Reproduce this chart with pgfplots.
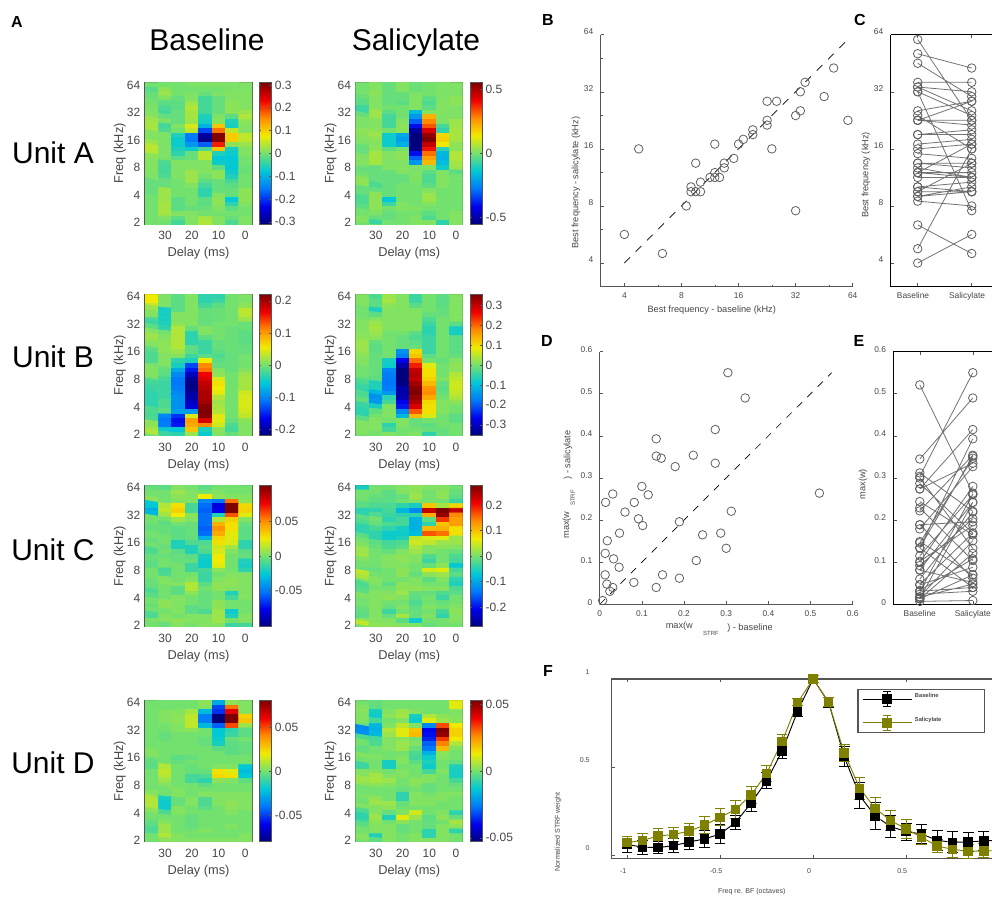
\documentclass[border=0pt]{standalone}
\usepackage{fontspec}
\setmainfont{Liberation Sans}
\usepackage{pgfplots}
\pgfplotsset{compat=1.18}
\definecolor{axg}{RGB}{85,85,85}
\definecolor{txg}{RGB}{70,70,70}
\definecolor{mkg}{RGB}{95,95,95}
\definecolor{lng}{RGB}{115,115,115}
\definecolor{oliv}{RGB}{128,128,0}
\pgfplotsset{
 /pgf/number format/assume math mode=true,
 colormap={myjet}{rgb255=(0,0,125) rgb255=(0,0,235) rgb255=(0,120,250) rgb255=(0,200,215) rgb255=(115,225,110) rgb255=(240,235,0) rgb255=(255,140,0) rgb255=(240,0,0) rgb255=(125,0,0)},
 heat/.style={
  scale only axis,width=80.25pt,height=106pt,anchor=south west,
  enlargelimits=false,x dir=reverse,xmin=-2.5,xmax=37.5,ymin=0.955,ymax=6.08,
  xtick={0,10,20,30},ytick={1,2,3,4,5,6},yticklabels={2,4,8,16,32,64},
  axis line style={draw=axg,line width=0.8pt},
  tick style={draw=axg,line width=0.4pt},tick align=inside,major tick length=2pt,
  xtick pos=bottom,ytick pos=left,
  tick label style={font=\fontsize{9}{10}\selectfont,text=txg},
  label style={font=\fontsize{9.6}{11}\selectfont,text=txg},
  xlabel={Delay (ms)},ylabel={Freq (kHz)},
  xlabel style={yshift=1.5pt},ylabel style={yshift=-6pt},
  xticklabel style={yshift=-2pt},
  colormap name=myjet,colorbar,
  colorbar shift/.style={xshift=4.8pt},
  colorbar style={width=9pt,scaled y ticks=false,
   axis line style={draw=axg,line width=0.5pt},
   tick style={draw=axg,line width=0.3pt},major tick length=1.5pt,tick align=inside,
   ylabel={},xlabel={},
   yticklabel style={font=\fontsize{9}{10}\selectfont,text=txg,/pgf/number format/fixed,/pgf/number format/precision=2,xshift=-1pt}}
 },
 scat/.style={scale only axis,anchor=south west,axis line style={-,draw=axg,line width=0.9pt},
  tick style={draw=axg,line width=0.4pt},tick align=inside,major tick length=2.5pt,minor tick length=1.5pt,
  tick label style={font=\fontsize{6.3}{7}\selectfont,text=txg},clip=false}
}
% the row of zeros appended to each table lies below the axis limits and is clipped
\newcommand\heat[5]{%
 \begin{axis}[heat,at={(#1*0.75pt,-#2*0.75pt)},point meta min=-#3,point meta max=#3,colorbar style={ytick={#4}}]
 \addplot[matrix plot*,mesh/cols=8,point meta={\thisrowno{0}*#3/100}]
  table[row sep=\\,header=false,x expr={35-5*mod(\coordindex,8)},y expr={6-floor(\coordindex/8)/6}]{#5 0\\0\\0\\0\\0\\0\\0\\0\\};
 \end{axis}}
\newcommand\lab[4][0]{\node[text=txg,font=\fontsize{#4}{#4}\selectfont,rotate=#1] at (#2) {#3};}
\newcommand\bigt[2]{\node[anchor=base,inner sep=0pt,text=black,font=\fontsize{22.5}{24}\selectfont] at (#1) {#2};}
\begin{document}
\begin{tikzpicture}
\path[use as bounding box] (0,0) rectangle (744pt,-672.75pt);
% cell values: percent of the panel's colour limit, rows 64 kHz -> 2 kHz, columns 35 ms -> 0 ms
\heat{145}{224}{0.31}{-0.3,-0.2,-0.1,0,0.1,0.2,0.3}{
0\\0\\0\\2\\2\\2\\2\\2\\
-6\\5\\0\\0\\0\\0\\2\\2\\
-3\\8\\0\\2\\-3\\2\\3\\3\\
-2\\3\\-3\\3\\-10\\-3\\3\\3\\
0\\-5\\-5\\8\\-10\\-3\\5\\3\\
2\\-8\\-5\\12\\-10\\-3\\5\\3\\
2\\-10\\-3\\10\\-10\\-3\\5\\8\\
3\\-3\\-3\\10\\-18\\2\\-5\\12\\
8\\2\\-3\\8\\-20\\5\\-18\\5\\
10\\-10\\3\\20\\-32\\35\\-20\\3\\
10\\-8\\0\\15\\-60\\55\\15\\3\\
3\\2\\-18\\-48\\-92\\100\\33\\15\\
3\\2\\-22\\-50\\-96\\98\\33\\15\\
8\\2\\-22\\-40\\-55\\70\\5\\8\\
14\\2\\-18\\-22\\-10\\35\\-20\\3\\
12\\2\\-15\\-3\\14\\-18\\-22\\3\\
5\\2\\-5\\-2\\14\\-25\\-25\\0\\
3\\-8\\3\\2\\3\\-22\\-24\\0\\
3\\-10\\2\\3\\3\\-5\\-24\\-2\\
3\\-10\\2\\8\\3\\5\\-22\\-2\\
2\\-8\\2\\8\\0\\5\\-18\\0\\
2\\-3\\0\\8\\-5\\-3\\-10\\0\\
-3\\-3\\0\\3\\-10\\-3\\-5\\0\\
-3\\8\\0\\0\\-15\\-3\\-3\\5\\
-3\\8\\0\\0\\-15\\3\\-3\\5\\
0\\8\\-5\\0\\-5\\5\\-25\\5\\
0\\10\\-5\\0\\-5\\5\\-15\\3\\
0\\10\\-5\\-3\\-2\\3\\-5\\0\\
0\\10\\3\\3\\0\\0\\0\\0\\
0\\3\\-5\\3\\10\\3\\-3\\2\\
0\\0\\-10\\3\\12\\3\\-8\\2\\}
\heat{355.7}{224}{0.55}{-0.5,0,0.5}{
0\\3\\-3\\3\\-2\\0\\2\\2\\
0\\3\\-3\\3\\-2\\0\\2\\2\\
2\\5\\-3\\-3\\2\\0\\2\\2\\
-2\\3\\-3\\-3\\3\\-5\\2\\5\\
-5\\3\\-3\\-5\\3\\-8\\3\\5\\
-12\\3\\0\\0\\3\\-5\\3\\2\\
-12\\8\\-5\\0\\-28\\3\\3\\2\\
-3\\8\\-10\\0\\-40\\40\\2\\3\\
2\\3\\-10\\3\\-55\\50\\2\\8\\
2\\3\\-10\\5\\-72\\60\\-10\\8\\
5\\5\\0\\5\\-92\\80\\-15\\10\\
5\\8\\-22\\-35\\-100\\95\\30\\10\\
3\\5\\-22\\-38\\-100\\100\\32\\10\\
2\\3\\-22\\-32\\-100\\85\\25\\5\\
-3\\5\\-5\\0\\-98\\72\\-15\\5\\
-3\\10\\3\\5\\-72\\55\\-30\\12\\
2\\10\\3\\5\\-55\\45\\-32\\12\\
3\\10\\2\\3\\-40\\38\\-28\\10\\
0\\-3\\3\\3\\2\\3\\-22\\8\\
-3\\-3\\-3\\3\\2\\-5\\3\\-5\\
0\\-3\\-3\\-3\\2\\-8\\3\\0\\
5\\-3\\-3\\-3\\2\\-8\\3\\0\\
5\\-8\\-3\\0\\0\\-5\\3\\0\\
-3\\-3\\-3\\0\\0\\3\\0\\0\\
-3\\5\\-3\\0\\0\\8\\0\\0\\
-8\\5\\-25\\0\\0\\8\\0\\0\\
-8\\5\\-12\\3\\0\\3\\0\\0\\
-5\\5\\0\\3\\2\\0\\0\\0\\
0\\2\\-3\\0\\0\\-5\\0\\3\\
3\\-3\\-3\\0\\2\\-8\\0\\3\\
3\\-12\\0\\0\\3\\3\\-15\\3\\}
\heat{145}{435.7}{0.22}{-0.2,-0.1,0,0.1,0.2}{
25\\2\\-5\\3\\-15\\-15\\0\\2\\
25\\2\\-5\\3\\-15\\-12\\0\\2\\
15\\2\\-5\\3\\-10\\-5\\0\\5\\
8\\-20\\-5\\3\\-3\\-2\\0\\14\\
3\\-20\\3\\3\\-3\\-2\\0\\14\\
-8\\-20\\3\\3\\-3\\-2\\0\\8\\
-12\\-18\\5\\3\\-3\\0\\0\\-2\\
-5\\-15\\12\\-3\\3\\0\\-2\\-2\\
3\\0\\12\\-15\\3\\0\\-2\\-5\\
8\\3\\12\\-15\\-5\\0\\-2\\-5\\
5\\5\\12\\-15\\-12\\-3\\-2\\-5\\
3\\5\\12\\-5\\-12\\-3\\-2\\-3\\
-5\\5\\8\\-5\\-12\\-5\\-2\\-3\\
-8\\3\\3\\-12\\-5\\-8\\-3\\0\\
-8\\3\\-15\\-18\\25\\-5\\-3\\0\\
0\\3\\-20\\-60\\50\\-3\\-3\\0\\
3\\-3\\-35\\-70\\55\\3\\-3\\3\\
3\\-5\\-45\\-85\\75\\5\\0\\8\\
0\\-10\\-50\\-95\\80\\20\\0\\10\\
-10\\-12\\-50\\-98\\85\\28\\0\\10\\
-12\\-12\\-48\\-98\\88\\25\\0\\10\\
-12\\-12\\-45\\-92\\90\\22\\0\\18\\
-15\\-12\\-42\\-90\\90\\12\\0\\20\\
-15\\-8\\-42\\-85\\92\\8\\0\\20\\
-15\\-8\\-42\\-80\\98\\10\\0\\20\\
-8\\-5\\-38\\-40\\100\\12\\0\\18\\
-10\\-45\\-65\\20\\98\\22\\0\\15\\
-8\\-50\\-72\\45\\80\\22\\-3\\5\\
5\\-48\\-70\\42\\50\\18\\-8\\3\\
10\\-22\\-25\\35\\-18\\5\\-10\\3\\
12\\-12\\-15\\8\\-22\\3\\-3\\3\\}
\heat{355.7}{435.7}{0.355}{-0.3,-0.2,-0.1,0,0.1,0.2,0.3}{
3\\-8\\8\\3\\-12\\0\\-5\\3\\
3\\-5\\10\\3\\-12\\0\\-5\\3\\
3\\-5\\5\\3\\-5\\0\\-5\\3\\
0\\-18\\3\\3\\3\\0\\-3\\3\\
0\\-5\\3\\3\\3\\-3\\-3\\3\\
0\\3\\3\\3\\3\\-8\\0\\3\\
3\\8\\3\\3\\3\\-12\\0\\-5\\
3\\10\\3\\3\\3\\-15\\0\\-20\\
3\\8\\0\\0\\-5\\-15\\0\\-20\\
5\\5\\0\\-3\\-8\\-12\\0\\-5\\
8\\-3\\0\\-3\\-5\\-12\\0\\-5\\
8\\-5\\0\\-3\\-3\\-12\\0\\-5\\
8\\-5\\0\\-42\\30\\-12\\0\\-5\\
5\\-3\\0\\-48\\35\\-5\\0\\-3\\
3\\-3\\-20\\-75\\55\\0\\-3\\3\\
3\\-3\\-22\\-90\\70\\22\\0\\5\\
0\\-3\\-45\\-100\\85\\28\\0\\5\\
0\\-3\\-48\\-100\\88\\28\\0\\12\\
-3\\-5\\-50\\-100\\85\\32\\3\\15\\
-8\\-18\\-50\\-98\\92\\38\\-3\\18\\
-12\\-18\\-48\\-90\\98\\48\\-5\\18\\
-15\\-30\\-40\\-90\\100\\50\\-3\\15\\
-8\\-42\\-15\\-88\\95\\42\\0\\12\\
-3\\-40\\-10\\-75\\90\\30\\3\\5\\
-12\\-20\\3\\-70\\80\\28\\3\\0\\
-15\\-5\\3\\-45\\60\\28\\3\\0\\
-15\\0\\3\\-30\\38\\20\\0\\-5\\
-5\\3\\0\\3\\-3\\0\\0\\-5\\
3\\3\\-15\\3\\-3\\-5\\0\\0\\
3\\3\\-10\\0\\0\\-3\\-3\\0\\
3\\0\\3\\0\\3\\-15\\-3\\0\\}
\heat{145}{626.7}{0.102}{-0.05,0,0.05}{
-3\\-5\\3\\0\\-5\\0\\0\\0\\
0\\0\\8\\3\\0\\3\\0\\0\\
0\\0\\5\\3\\25\\5\\3\\3\\
5\\0\\3\\3\\-45\\-50\\55\\5\\
-25\\12\\28\\-10\\-52\\-78\\100\\30\\
-35\\15\\32\\-10\\-55\\-75\\100\\32\\
-30\\10\\25\\5\\-52\\-18\\60\\22\\
0\\0\\8\\3\\-52\\12\\32\\3\\
0\\-5\\0\\-3\\-52\\40\\28\\-3\\
-3\\-3\\-5\\-3\\-55\\48\\28\\-5\\
0\\-3\\-5\\-3\\-52\\42\\22\\-5\\
0\\0\\-5\\-3\\-32\\30\\22\\-5\\
-3\\0\\-18\\-8\\-8\\28\\20\\-15\\
0\\-3\\-18\\-18\\-5\\18\\10\\-15\\
-8\\0\\-5\\-18\\-8\\20\\3\\-5\\
-3\\-3\\-3\\-5\\-20\\25\\0\\-3\\
-3\\0\\-3\\-3\\-22\\25\\0\\-18\\
-5\\0\\0\\-12\\-22\\22\\0\\-20\\
0\\-10\\0\\-12\\-10\\5\\0\\-15\\
0\\-8\\0\\0\\-12\\0\\3\\3\\
0\\3\\0\\3\\-12\\3\\5\\3\\
-3\\3\\3\\12\\-5\\5\\5\\3\\
-3\\0\\-5\\12\\0\\5\\3\\3\\
-8\\0\\-5\\5\\-3\\0\\-18\\3\\
-5\\0\\3\\0\\-3\\0\\-10\\3\\
0\\5\\3\\0\\-3\\5\\0\\0\\
-3\\5\\3\\-5\\-3\\5\\0\\0\\
0\\0\\3\\-5\\-8\\8\\-22\\0\\
-8\\3\\0\\3\\3\\8\\-18\\3\\
3\\3\\5\\3\\3\\8\\0\\3\\
0\\-3\\3\\0\\3\\3\\-12\\-10\\}
\heat{355.7}{626.7}{0.277}{-0.2,-0.1,0,0.1,0.2}{
-20\\0\\0\\3\\5\\3\\3\\0\\
0\\0\\-5\\3\\5\\0\\5\\-3\\
0\\-3\\-5\\-3\\8\\0\\5\\-5\\
0\\-5\\-5\\0\\3\\0\\0\\-12\\
-5\\-8\\-8\\-15\\-20\\35\\10\\30\\
-18\\-15\\-10\\-30\\-45\\85\\100\\85\\
-15\\-8\\-12\\-15\\-15\\42\\95\\50\\
-5\\0\\-15\\-10\\-32\\-5\\65\\45\\
-8\\-3\\-8\\-10\\-32\\-15\\35\\45\\
-15\\-10\\-15\\-20\\-32\\38\\40\\28\\
-15\\-15\\-22\\-22\\-28\\60\\55\\28\\
-5\\-15\\-22\\-18\\15\\20\\22\\8\\
0\\-5\\-10\\-8\\18\\15\\8\\8\\
3\\-3\\-8\\-5\\12\\3\\5\\3\\
8\\0\\-3\\3\\8\\3\\0\\-3\\
10\\0\\3\\5\\3\\-8\\0\\-8\\
3\\0\\3\\5\\3\\-12\\0\\-10\\
0\\0\\3\\3\\0\\-3\\5\\-25\\
-3\\-3\\0\\5\\0\\20\\22\\-10\\
15\\0\\0\\5\\-3\\5\\8\\-5\\
10\\3\\0\\0\\3\\-5\\3\\-15\\
0\\3\\-5\\5\\3\\0\\0\\-18\\
-8\\0\\0\\5\\5\\3\\3\\-8\\
-5\\3\\3\\8\\-3\\-3\\-8\\-5\\
3\\3\\5\\3\\-5\\0\\-12\\0\\
0\\3\\0\\0\\-8\\0\\-3\\0\\
0\\3\\-3\\3\\-5\\3\\0\\3\\
-3\\3\\-12\\0\\-3\\0\\-10\\5\\
-5\\3\\-3\\10\\-3\\3\\-15\\3\\
5\\3\\3\\-5\\-22\\0\\0\\3\\
15\\5\\5\\3\\3\\-3\\0\\0\\}
\heat{145}{841.7}{0.08}{-0.05,0,0.05}{
0\\0\\0\\0\\5\\-35\\5\\3\\
0\\0\\0\\0\\3\\-60\\55\\3\\
0\\3\\3\\10\\-30\\-65\\78\\3\\
0\\3\\5\\15\\-48\\-100\\100\\32\\
0\\3\\5\\15\\-48\\-100\\100\\35\\
0\\0\\3\\15\\-30\\-55\\62\\8\\
0\\0\\3\\5\\0\\-25\\-15\\-5\\
0\\-3\\0\\0\\0\\-25\\-12\\-5\\
0\\-3\\0\\0\\-3\\-22\\-3\\0\\
0\\0\\0\\0\\-3\\-20\\-5\\-3\\
0\\0\\0\\0\\0\\-5\\-5\\-3\\
3\\0\\0\\0\\0\\0\\-5\\-3\\
3\\0\\-5\\-3\\0\\0\\0\\0\\
-3\\0\\-3\\0\\0\\0\\0\\0\\
-5\\12\\0\\-3\\0\\3\\3\\-25\\
0\\15\\0\\-3\\-3\\28\\22\\-28\\
0\\14\\0\\-10\\-8\\30\\28\\-25\\
0\\8\\0\\-10\\-15\\5\\3\\-5\\
0\\3\\0\\0\\-5\\0\\0\\0\\
0\\0\\3\\0\\0\\0\\0\\0\\
3\\0\\3\\0\\3\\3\\3\\3\\
8\\-20\\-3\\3\\-8\\3\\3\\3\\
12\\-22\\-3\\3\\-8\\3\\5\\3\\
12\\-22\\3\\0\\-5\\0\\5\\3\\
5\\-8\\3\\0\\0\\0\\3\\0\\
0\\0\\0\\-3\\0\\0\\0\\0\\
-3\\3\\0\\-3\\0\\0\\0\\0\\
-5\\8\\0\\-3\\0\\0\\3\\0\\
-8\\8\\0\\0\\3\\0\\0\\0\\
0\\12\\3\\0\\0\\0\\0\\3\\
0\\5\\3\\3\\3\\3\\3\\3\\}
\heat{355.7}{841.7}{0.053}{-0.05,0,0.05}{
0\\-3\\0\\0\\0\\0\\0\\22\\
3\\-5\\0\\0\\0\\0\\0\\22\\
5\\-20\\3\\8\\3\\0\\0\\3\\
3\\-22\\5\\10\\-20\\12\\5\\3\\
3\\-10\\0\\3\\-22\\22\\8\\5\\
-3\\-30\\3\\15\\3\\-45\\62\\25\\
-45\\-32\\12\\22\\35\\-75\\100\\32\\
-42\\-30\\8\\22\\38\\-72\\95\\32\\
-8\\-10\\3\\5\\0\\-68\\65\\25\\
0\\-8\\3\\8\\3\\-55\\52\\12\\
-5\\0\\3\\8\\-3\\-50\\38\\3\\
-3\\0\\0\\0\\-8\\-32\\5\\0\\
3\\3\\0\\3\\-10\\-22\\3\\0\\
0\\0\\-20\\3\\-5\\-18\\0\\-3\\
-12\\0\\-20\\0\\0\\-22\\0\\-18\\
3\\3\\0\\3\\0\\-10\\3\\-20\\
3\\10\\3\\3\\0\\3\\0\\-20\\
8\\10\\8\\0\\5\\3\\0\\-10\\
5\\5\\3\\0\\3\\-3\\0\\-3\\
0\\0\\0\\-3\\0\\-3\\0\\0\\
0\\0\\0\\-15\\3\\0\\3\\3\\
3\\5\\0\\-15\\3\\3\\3\\0\\
0\\8\\8\\-3\\3\\3\\0\\0\\
3\\3\\5\\0\\0\\0\\0\\0\\
-8\\3\\-3\\3\\18\\0\\3\\-15\\
-15\\8\\-18\\22\\8\\-5\\5\\-3\\
-10\\5\\0\\5\\0\\-3\\0\\10\\
-5\\3\\3\\-3\\0\\-3\\3\\5\\
0\\3\\3\\-3\\0\\-15\\3\\-15\\
3\\-18\\3\\0\\3\\-15\\3\\0\\
3\\-5\\3\\0\\3\\3\\3\\0\\}
% panel B
\begin{axis}[scat,at={(600.7*0.75pt,-286.7*0.75pt)},width=189pt,height=189pt,
 axis lines*=left,xmode=log,ymode=log,log basis x=2,log basis y=2,xmin=3,xmax=64,ymin=3,ymax=64,
 xtick={4,8,16,32,64},xticklabels={4,8,16,32,64},ytick={4,8,16,32,64},yticklabels={4,8,16,32,64},
 extra x ticks={6,12,24,48},extra y ticks={6,12,24,48},extra x tick labels={},extra y tick labels={},
 extra tick style={major tick length=1.5pt},
 xticklabel style={yshift=-1pt},yticklabel style={xshift=-2pt,yshift=2.5pt}]
\addplot[black,line width=0.5pt,dash pattern=on 6pt off 6pt] coordinates {(4,4) (60.4,60.4)};
\addplot[only marks,mark=o,mark size=3.2pt,mark options={draw=mkg,line width=0.6pt}] coordinates {
(4.00,5.66) (4.76,16) (6.35,4.49) (8.48,8) (8.98,10.08) (8.98,9.51) (9.51,13.45) (9.51,9.51) (10.08,9.51) (10.08,10.68)
(11.31,11.31) (11.99,11.31) (12.70,11.31) (11.99,11.99) (13.45,12.70) (13.45,13.45) (11.99,16.95) (15.10,14.25) (16,16.95)
(16.95,17.96) (19.03,19.03) (19.03,20.16) (22.63,21.36) (22.63,22.63) (22.63,28.51) (23.97,16) (25.40,28.51) (32,23.97)
(33.9,25.40) (33.9,32) (32,7.55) (35.9,35.9) (45.25,30.2) (50.8,42.7) (60.4,22.63)};
\end{axis}
% panel C
\begin{axis}[scat,at={(890.7*0.75pt,-286.7*0.75pt)},width=81pt,height=189pt,clip=false,
 axis x line*=box,axis y line*=left,axis line style={-,draw=black,line width=0.7pt},
 ymode=log,log basis y=2,xmin=0.5,xmax=2.5,ymin=3,ymax=64,unbounded coords=jump,
 xtick={1,2},xticklabels={Baseline,Salicylate},ytick={4,8,16,32,64},yticklabels={4,8,16,32,64},
 xticklabel style={yshift=-1pt,xshift=-3.5pt},yticklabel style={xshift=-2pt,yshift=2.5pt}]
\addplot[lng,line width=0.6pt,mark=o,mark size=3.2pt,mark options={draw=mkg,line width=0.6pt}] coordinates {
(1,4.00)(2,5.66)(1,nan) (1,4.76)(2,16)(1,nan) (1,6.35)(2,4.49)(1,nan) (1,8.48)(2,8)(1,nan) (1,8.98)(2,10.08)(1,nan) (1,8.98)(2,9.51)(1,nan)
(1,9.51)(2,13.45)(1,nan) (1,9.51)(2,9.51)(1,nan) (1,10.08)(2,9.51)(1,nan) (1,10.08)(2,10.68)(1,nan) (1,11.31)(2,11.31)(1,nan) (1,11.99)(2,11.31)(1,nan)
(1,12.70)(2,11.31)(1,nan) (1,11.99)(2,11.99)(1,nan) (1,13.45)(2,12.70)(1,nan) (1,13.45)(2,13.45)(1,nan) (1,11.99)(2,16.95)(1,nan) (1,15.10)(2,14.25)(1,nan)
(1,16)(2,16.95)(1,nan) (1,16.95)(2,17.96)(1,nan) (1,19.03)(2,19.03)(1,nan) (1,19.03)(2,20.16)(1,nan) (1,22.63)(2,21.36)(1,nan) (1,22.63)(2,22.63)(1,nan)
(1,22.63)(2,28.51)(1,nan) (1,23.97)(2,16)(1,nan) (1,25.40)(2,28.51)(1,nan) (1,32)(2,23.97)(1,nan) (1,33.9)(2,25.40)(1,nan) (1,33.9)(2,32)(1,nan)
(1,32)(2,7.55)(1,nan) (1,35.9)(2,35.9)(1,nan) (1,45.25)(2,30.2)(1,nan) (1,50.8)(2,42.7)(1,nan) (1,60.4)(2,22.63)};
\end{axis}
% panel D
\begin{axis}[scat,at={(599.7*0.75pt,-604.3*0.75pt)},width=189.75pt,height=189.5pt,
 axis lines*=left,xmin=0,xmax=0.6,ymin=0,ymax=0.6,
 xtick={0,0.1,...,0.6},ytick={0,0.1,...,0.6},
 xticklabel style={yshift=-1pt,/pgf/number format/fixed},yticklabel style={xshift=-2pt,yshift=1.5pt,/pgf/number format/fixed}]
\addplot[black,line width=0.5pt,dash pattern=on 5.5pt off 5.5pt] coordinates {(0,0) (0.55,0.55)};
\addplot[only marks,mark=o,mark size=3.2pt,mark options={draw=mkg,line width=0.6pt}] coordinates {
(.007,.009)(.024,.031)(.031,.040)(.017,.048)(.013,.070)(.046,.088)(.033,.108)(.013,.121)(.018,.151)(.047,.169)(.014,.242)(.031,.262)(.060,.219)(.082,.242)
(.092,.203)(.102,.187)(.100,.280)(.115,.260)(.134,.393)(.134,.352)(.146,.347)(.179,.327)(.222,.354)(.274,.415)(.274,.335)(.304,.550)(.345,.490)(.189,.196)
(.312,.221)(.244,.165)(.287,.169)(.300,.133)(.229,.104)(.149,.070)(.189,.062)(.081,.052)(.134,.040)(.521,.264)};
\end{axis}
% panel E
\begin{axis}[scat,at={(893.3*0.75pt,-604.3*0.75pt)},width=79.5pt,height=189.5pt,
 axis x line*=box,axis y line*=left,axis line style={-,draw=black,line width=0.7pt},
 xmin=0.5,xmax=2.5,ymin=0,ymax=0.6,unbounded coords=jump,
 xtick={1,2},xticklabels={Baseline,Salicylate},ytick={0,0.1,...,0.6},
 xticklabel style={yshift=-1pt},yticklabel style={xshift=-2pt,yshift=1.5pt,/pgf/number format/fixed}]
\addplot[lng,line width=0.6pt,mark=o,mark size=3.2pt,mark options={draw=mkg,line width=0.6pt}] coordinates {
(1,.007)(2,.009)(1,nan) (1,.024)(2,.031)(1,nan) (1,.031)(2,.040)(1,nan) (1,.017)(2,.048)(1,nan) (1,.013)(2,.070)(1,nan) (1,.046)(2,.088)(1,nan) (1,.033)(2,.108)(1,nan)
(1,.013)(2,.121)(1,nan) (1,.018)(2,.151)(1,nan) (1,.047)(2,.169)(1,nan) (1,.014)(2,.242)(1,nan) (1,.031)(2,.262)(1,nan) (1,.060)(2,.219)(1,nan) (1,.082)(2,.242)(1,nan)
(1,.092)(2,.203)(1,nan) (1,.102)(2,.187)(1,nan) (1,.100)(2,.280)(1,nan) (1,.115)(2,.260)(1,nan) (1,.134)(2,.393)(1,nan) (1,.134)(2,.352)(1,nan) (1,.146)(2,.347)(1,nan)
(1,.179)(2,.327)(1,nan) (1,.222)(2,.354)(1,nan) (1,.274)(2,.415)(1,nan) (1,.274)(2,.335)(1,nan) (1,.304)(2,.550)(1,nan) (1,.345)(2,.490)(1,nan) (1,.189)(2,.196)(1,nan)
(1,.312)(2,.221)(1,nan) (1,.244)(2,.165)(1,nan) (1,.287)(2,.169)(1,nan) (1,.300)(2,.133)(1,nan) (1,.229)(2,.104)(1,nan) (1,.149)(2,.070)(1,nan) (1,.189)(2,.062)(1,nan)
(1,.081)(2,.052)(1,nan) (1,.134)(2,.040)(1,nan) (1,.521)(2,.264)};
\end{axis}
% panel F
\begin{axis}[scat,at={(611.7*0.75pt,-858.3*0.75pt)},width=302.2pt,height=134.5pt,
 axis line style={-,draw=axg,line width=1pt},xmin=-1.083,xmax=1.083,ymin=-0.019,ymax=1,
 xtick={-1,-0.5,0,0.5},ytick={0,0.5,1},xtick pos=both,ytick pos=both,
 xticklabel style={yshift=-4pt,xshift=-3pt},yticklabel style={xshift=-13pt,yshift=5pt},
 tick label style={font=\fontsize{5.3}{6}\selectfont},
 legend columns=1,
 legend style={at={(0.610,0.697)},anchor=south west,draw=axg,line width=0.8pt,font=\fontsize{4.3}{5}\bfseries\selectfont,text=txg,
  row sep=5.5pt,inner xsep=3pt,inner ysep=1.5pt},
 legend image code/.code={
  \draw[#1,mark=none] (0pt,0pt) -- (37pt,0pt);
  \draw[#1,mark=none] (18.5pt,-5.5pt) -- (18.5pt,5.5pt) (15.5pt,5.5pt) -- (21.5pt,5.5pt) (15.5pt,-5.5pt) -- (21.5pt,-5.5pt);
  \fill[#1,mark=none] (15.2pt,-3.3pt) rectangle (21.8pt,3.3pt);}]
\addplot[black,line width=0.7pt,mark=square*,mark size=3.2pt,
 error bars/.cd,y dir=both,y explicit,error bar style={line width=0.7pt},error mark options={rotate=90,mark size=4pt,line width=0.7pt}] coordinates {
(-1.0000,.060)+-(0,.045)(-.9167,.044)+-(0,.039)(-.8333,.042)+-(0,.035)(-.7500,.053)+-(0,.038)(-.6667,.074)+-(0,.045)(-.5833,.091)+-(0,.050)(-.5000,.119)+-(0,.052)
(-.4167,.186)+-(0,.040)(-.3333,.295)+-(0,.050)(-.2500,.422)+-(0,.046)(-.1667,.591)+-(0,.045)(-.0833,.818)+-(0,.033)(0,1)+-(0,.02)(.0833,.867)+-(0,.030)(.1667,.559)+-(0,.055)
(.2500,.337)+-(0,.074)(.3333,.222)+-(0,.079)(.4167,.161)+-(0,.062)(.5000,.133)+-(0,.048)(.5833,.119)+-(0,.053)(.6667,.083)+-(0,.059)(.7500,.072)+-(0,.059)(.8333,.074)+-(0,.055)
(.9167,.080)+-(0,.053)(1.0000,.083)+-(0,.053)};
\addplot[oliv,line width=0.7pt,mark=square*,mark size=3.2pt,
 error bars/.cd,y dir=both,y explicit,error bar style={line width=0.7pt},error mark options={rotate=90,mark size=4pt,line width=0.7pt}] coordinates {
(-1.0000,.070)+-(0,.034)(-.9167,.083)+-(0,.038)(-.8333,.108)+-(0,.040)(-.7500,.116)+-(0,.040)(-.6667,.136)+-(0,.045)(-.5833,.170)+-(0,.049)(-.5000,.214)+-(0,.048)
(-.4167,.259)+-(0,.049)(-.3333,.341)+-(0,.047)(-.2500,.464)+-(0,.047)(-.1667,.646)+-(0,.036)(-.0833,.867)+-(0,.020)(0,1)+-(0,.022)(.0833,.867)+-(0,.026)(.1667,.580)+-(0,.049)
(.2500,.379)+-(0,.061)(.3333,.265)+-(0,.061)(.4167,.195)+-(0,.057)(.5000,.148)+-(0,.053)(.5833,.100)+-(0,.043)(.6667,.051)+-(0,.038)(.7500,.032)+-(0,.045)(.8333,.021)+-(0,.040)
(.9167,.023)+-(0,.040)(1.0000,.025)+-(0,.040)};
\legend{\raisebox{3.5pt}{\makebox[47pt][l]{Baseline}},\raisebox{3.5pt}{\makebox[47pt][l]{Salicylate}}}
\end{axis}
% text
\bigt{207*0.75pt,-50.5*0.75pt}{Baseline}
\bigt{416*0.75pt,-50.5*0.75pt}{Salicylate}
\bigt{53*0.75pt,-163.5*0.75pt}{Unit A}
\bigt{53*0.75pt,-367.5*0.75pt}{Unit B}
\bigt{53*0.75pt,-560.5*0.75pt}{Unit C}
\bigt{53*0.75pt,-773.5*0.75pt}{Unit D}
\foreach \t/\x/\y in {A/17/22,B/548/20,C/860/20,D/547/341,E/859/341,F/548/671}
 \node[font=\fontsize{12}{12}\bfseries\selectfont] at (\x*0.75pt,-\y*0.75pt) {\t};
\lab{711.7*0.75pt,-310*0.75pt}{Best frequency - baseline (kHz)}{6.9}
\lab[90]{576*0.75pt,-182.7*0.75pt}{Best frequency - salicylate (kHz)}{6.9}
\lab[90]{866*0.75pt,-175*0.75pt}{Best frequency (kHz)}{6.9}
\lab{679.3*0.75pt,-625.7*0.75pt}{max(w}{6.9}
\lab{711*0.75pt,-633*0.75pt}{STRF}{4.5}
\lab{750*0.75pt,-628*0.75pt}{) - baseline}{6.9}
\lab[90]{566.7*0.75pt,-525*0.75pt}{max(w}{6.9}
\lab[90]{572.7*0.75pt,-498*0.75pt}{STRF}{4.5}
\lab[90]{568*0.75pt,-455*0.75pt}{) - salicylate}{6.9}
\lab[90]{863*0.75pt,-484*0.75pt}{max(w)}{6.9}
\lab[90]{558*0.75pt,-832*0.75pt}{Normalized STRF weight}{5.3}
\lab{751.7*0.75pt,-892*0.75pt}{Freq re. BF (octaves)}{5.3}
\end{tikzpicture}
\end{document}
